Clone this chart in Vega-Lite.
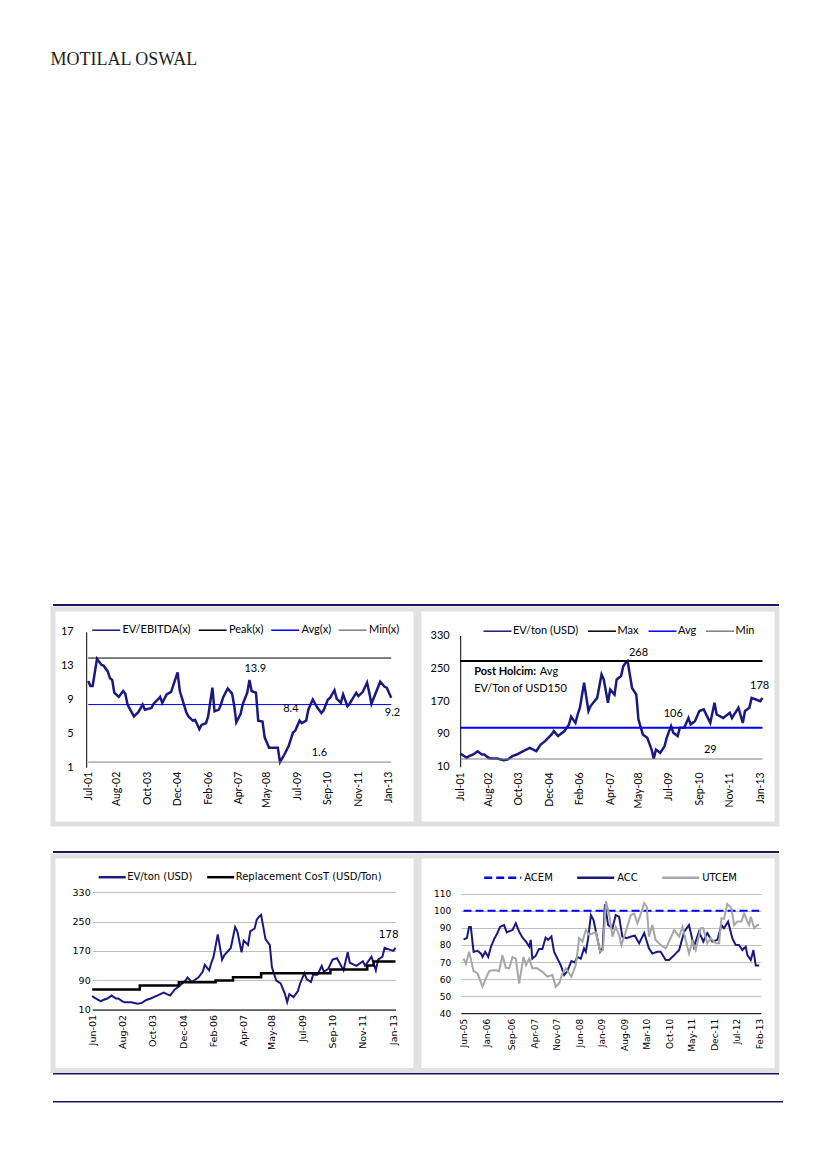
{
"$schema": "https://vega.github.io/schema/vega-lite/v6.json",
"background": "#ffffff",
"padding": {"left": 50, "top": 51, "right": 0, "bottom": 0},
"title": {"text": "MOTILAL OSWAL", "anchor": "start", "frame": "bounds", "font": "Liberation Serif", "fontSize": 18, "fontWeight": "normal", "color": "#231f20", "offset": 535},
"spacing": 0,
"resolve": {"scale": {"color": "independent", "strokeDash": "independent"}, "legend": {"color": "independent", "strokeDash": "independent"}},
"datasets": {
"ebitda": [
{"date":"2001-07-01","v":11.2},{"date":"2001-08-01","v":10.6},{"date":"2001-09-01","v":10.6},{"date":"2001-11-01","v":13.8},{"date":"2002-01-01","v":13.1},{"date":"2002-02-01","v":13.0},{"date":"2002-04-01","v":12.3},{"date":"2002-05-01","v":11.5},{"date":"2002-06-01","v":11.3},{"date":"2002-07-01","v":9.8},{"date":"2002-09-01","v":9.3},{"date":"2002-11-01","v":10.0},{"date":"2002-12-01","v":9.7},{"date":"2003-01-01","v":8.4},{"date":"2003-04-01","v":7.0},{"date":"2003-06-01","v":7.5},{"date":"2003-08-01","v":8.4},{"date":"2003-09-01","v":7.8},{"date":"2003-12-01","v":8.0},{"date":"2004-01-01","v":8.5},{"date":"2004-03-01","v":9.0},{"date":"2004-04-01","v":9.3},{"date":"2004-05-01","v":8.6},{"date":"2004-07-01","v":9.6},{"date":"2004-09-01","v":9.9},{"date":"2004-12-01","v":12.2},{"date":"2005-01-01","v":10.0},{"date":"2005-04-01","v":7.5},{"date":"2005-05-01","v":7.0},{"date":"2005-07-01","v":6.5},{"date":"2005-08-01","v":6.6},{"date":"2005-10-01","v":5.5},{"date":"2005-11-01","v":6.0},{"date":"2006-01-01","v":6.2},{"date":"2006-02-01","v":7.0},{"date":"2006-04-01","v":10.4},{"date":"2006-05-01","v":7.6},{"date":"2006-07-01","v":7.8},{"date":"2006-08-01","v":8.5},{"date":"2006-09-01","v":9.3},{"date":"2006-11-01","v":10.3},{"date":"2007-01-01","v":9.7},{"date":"2007-02-01","v":8.2},{"date":"2007-03-01","v":6.3},{"date":"2007-05-01","v":7.3},{"date":"2007-06-01","v":8.5},{"date":"2007-08-01","v":9.8},{"date":"2007-09-01","v":11.3},{"date":"2007-10-01","v":10.0},{"date":"2007-12-01","v":9.8},{"date":"2008-01-01","v":6.5},{"date":"2008-03-01","v":6.4},{"date":"2008-04-01","v":4.5},{"date":"2008-06-01","v":3.3},{"date":"2008-07-01","v":3.3},{"date":"2008-10-01","v":3.3},{"date":"2008-11-01","v":1.6},{"date":"2009-01-01","v":2.5},{"date":"2009-03-01","v":3.5},{"date":"2009-05-01","v":5.1},{"date":"2009-06-01","v":5.3},{"date":"2009-08-01","v":6.5},{"date":"2009-09-01","v":6.2},{"date":"2009-11-01","v":6.5},{"date":"2009-12-01","v":7.8},{"date":"2010-02-01","v":9.0},{"date":"2010-04-01","v":8.1},{"date":"2010-06-01","v":7.4},{"date":"2010-07-01","v":7.7},{"date":"2010-09-01","v":9.0},{"date":"2010-10-01","v":9.2},{"date":"2010-12-01","v":10.1},{"date":"2011-01-01","v":9.1},{"date":"2011-03-01","v":8.6},{"date":"2011-04-01","v":9.6},{"date":"2011-06-01","v":8.2},{"date":"2011-07-01","v":8.5},{"date":"2011-10-01","v":9.8},{"date":"2011-11-01","v":9.4},{"date":"2012-01-01","v":9.9},{"date":"2012-03-01","v":11.0},{"date":"2012-04-01","v":9.8},{"date":"2012-05-01","v":8.5},{"date":"2012-07-01","v":9.8},{"date":"2012-09-01","v":11.1},{"date":"2012-11-01","v":10.5},{"date":"2012-12-01","v":10.4},{"date":"2013-02-01","v":9.2}
],
"ebitdaRef": [
{"date":"2001-07-01","v":13.9,"s":"Peak(x)"},{"date":"2013-02-01","v":13.9,"s":"Peak(x)"},
{"date":"2001-07-01","v":8.4,"s":"Avg(x)"},{"date":"2013-02-01","v":8.4,"s":"Avg(x)"},
{"date":"2001-07-01","v":1.6,"s":"Min(x)"},{"date":"2013-02-01","v":1.6,"s":"Min(x)"}
],
"evton": [
{"date":"2001-06-01","v":47},{"date":"2001-07-01","v":42.5},{"date":"2001-10-01","v":32},{"date":"2001-11-01","v":36},{"date":"2002-01-01","v":40},{"date":"2002-03-01","v":48},{"date":"2002-05-01","v":40},{"date":"2002-06-01","v":40},{"date":"2002-08-01","v":32},{"date":"2002-09-01","v":30},{"date":"2002-12-01","v":30},{"date":"2003-03-01","v":26},{"date":"2003-05-01","v":28},{"date":"2003-07-01","v":36},{"date":"2003-09-01","v":40},{"date":"2003-12-01","v":48},{"date":"2004-03-01","v":56},{"date":"2004-06-01","v":48},{"date":"2004-08-01","v":64},{"date":"2004-10-01","v":72.5},{"date":"2005-01-01","v":89},{"date":"2005-02-01","v":97},{"date":"2005-04-01","v":85},{"date":"2005-07-01","v":97},{"date":"2005-09-01","v":113},{"date":"2005-10-01","v":132},{"date":"2005-12-01","v":117},{"date":"2006-01-01","v":137.5},{"date":"2006-02-01","v":154},{"date":"2006-04-01","v":215},{"date":"2006-06-01","v":146},{"date":"2006-07-01","v":158},{"date":"2006-10-01","v":178},{"date":"2006-12-01","v":235},{"date":"2007-01-01","v":223},{"date":"2007-03-01","v":166},{"date":"2007-04-01","v":198},{"date":"2007-06-01","v":186},{"date":"2007-07-01","v":223},{"date":"2007-09-01","v":231},{"date":"2007-10-01","v":255},{"date":"2007-11-01","v":263},{"date":"2007-12-01","v":268},{"date":"2008-02-01","v":202},{"date":"2008-04-01","v":186},{"date":"2008-05-01","v":125},{"date":"2008-07-01","v":89},{"date":"2008-09-01","v":81},{"date":"2008-11-01","v":52},{"date":"2008-12-01","v":30},{"date":"2009-01-01","v":52},{"date":"2009-03-01","v":44},{"date":"2009-05-01","v":60},{"date":"2009-06-01","v":81},{"date":"2009-08-01","v":109},{"date":"2009-09-01","v":93},{"date":"2009-11-01","v":85},{"date":"2009-12-01","v":105},{"date":"2010-02-01","v":105},{"date":"2010-04-01","v":129},{"date":"2010-05-01","v":113},{"date":"2010-07-01","v":121},{"date":"2010-09-01","v":146},{"date":"2010-11-01","v":150},{"date":"2011-02-01","v":117},{"date":"2011-04-01","v":166},{"date":"2011-05-01","v":137.5},{"date":"2011-08-01","v":129},{"date":"2011-11-01","v":141.6},{"date":"2011-12-01","v":129},{"date":"2012-03-01","v":154},{"date":"2012-05-01","v":117},{"date":"2012-06-01","v":146},{"date":"2012-08-01","v":154},{"date":"2012-09-01","v":178},{"date":"2012-11-01","v":174},{"date":"2013-01-01","v":170},{"date":"2013-02-01","v":178}
],
"evtonRef": [
{"date":"2001-07-01","v":268,"s":"Max"},{"date":"2013-02-01","v":268,"s":"Max"},
{"date":"2001-07-01","v":105,"s":"Avg"},{"date":"2013-02-01","v":105,"s":"Avg"},
{"date":"2001-07-01","v":29,"s":"Min"},{"date":"2013-02-01","v":29,"s":"Min"}
],
"repl": [
{"date":"2001-06-01","v":64.5,"s":"Replacement CosT (USD/Ton)"},{"date":"2003-04-01","v":75.5,"s":"Replacement CosT (USD/Ton)"},{"date":"2004-10-01","v":84.5,"s":"Replacement CosT (USD/Ton)"},{"date":"2006-03-01","v":89,"s":"Replacement CosT (USD/Ton)"},{"date":"2006-11-01","v":98,"s":"Replacement CosT (USD/Ton)"},{"date":"2007-12-01","v":109,"s":"Replacement CosT (USD/Ton)"},{"date":"2010-08-01","v":119,"s":"Replacement CosT (USD/Ton)"},{"date":"2012-01-01","v":130,"s":"Replacement CosT (USD/Ton)"},{"date":"2012-04-01","v":141,"s":"Replacement CosT (USD/Ton)"},{"date":"2013-02-01","v":141,"s":"Replacement CosT (USD/Ton)"}
],
"cement": [
{"date":"2005-06-01","v":100,"s":"ACEM"},{"date":"2013-02-01","v":100,"s":"ACEM"},
{"date":"2005-06-01","v":83.3,"s":"ACC"},{"date":"2005-07-02","v":84,"s":"ACC"},{"date":"2005-07-24","v":90.6,"s":"ACC"},{"date":"2005-08-09","v":90.6,"s":"ACC"},{"date":"2005-09-04","v":76,"s":"ACC"},{"date":"2005-10-12","v":76.5,"s":"ACC"},{"date":"2005-11-13","v":75,"s":"ACC"},{"date":"2005-11-28","v":73,"s":"ACC"},{"date":"2005-12-23","v":76,"s":"ACC"},{"date":"2006-01-21","v":73,"s":"ACC"},{"date":"2006-02-16","v":79,"s":"ACC"},{"date":"2006-03-17","v":83.3,"s":"ACC"},{"date":"2006-04-18","v":87,"s":"ACC"},{"date":"2006-05-13","v":90.6,"s":"ACC"},{"date":"2006-06-20","v":91.7,"s":"ACC"},{"date":"2006-07-15","v":87.4,"s":"ACC"},{"date":"2006-09-08","v":88.8,"s":"ACC"},{"date":"2006-10-09","v":92.7,"s":"ACC"},{"date":"2006-11-10","v":87.8,"s":"ACC"},{"date":"2006-12-12","v":84.3,"s":"ACC"},{"date":"2007-01-13","v":82,"s":"ACC"},{"date":"2007-02-14","v":79,"s":"ACC"},{"date":"2007-02-28","v":83,"s":"ACC"},{"date":"2007-03-15","v":72,"s":"ACC"},{"date":"2007-04-16","v":73.7,"s":"ACC"},{"date":"2007-05-17","v":77.7,"s":"ACC"},{"date":"2007-06-18","v":77.7,"s":"ACC"},{"date":"2007-07-19","v":84.3,"s":"ACC"},{"date":"2007-08-11","v":83,"s":"ACC"},{"date":"2007-09-12","v":85,"s":"ACC"},{"date":"2007-10-07","v":76,"s":"ACC"},{"date":"2007-11-08","v":72,"s":"ACC"},{"date":"2007-12-10","v":68,"s":"ACC"},{"date":"2008-01-11","v":62.4,"s":"ACC"},{"date":"2008-02-05","v":64.3,"s":"ACC"},{"date":"2008-02-27","v":67.3,"s":"ACC"},{"date":"2008-03-19","v":70.6,"s":"ACC"},{"date":"2008-04-20","v":69.8,"s":"ACC"},{"date":"2008-05-15","v":73,"s":"ACC"},{"date":"2008-06-16","v":72,"s":"ACC"},{"date":"2008-07-17","v":78,"s":"ACC"},{"date":"2008-08-03","v":76,"s":"ACC"},{"date":"2008-08-25","v":84,"s":"ACC"},{"date":"2008-09-20","v":97.5,"s":"ACC"},{"date":"2008-10-15","v":94.6,"s":"ACC"},{"date":"2008-11-16","v":84.9,"s":"ACC"},{"date":"2008-12-17","v":76,"s":"ACC"},{"date":"2009-01-09","v":78,"s":"ACC"},{"date":"2009-01-31","v":104,"s":"ACC"},{"date":"2009-03-02","v":91.7,"s":"ACC"},{"date":"2009-04-12","v":89.8,"s":"ACC"},{"date":"2009-05-13","v":97.5,"s":"ACC"},{"date":"2009-06-14","v":96.6,"s":"ACC"},{"date":"2009-07-15","v":84.9,"s":"ACC"},{"date":"2009-08-26","v":84,"s":"ACC"},{"date":"2009-10-03","v":84.9,"s":"ACC"},{"date":"2009-11-10","v":85.5,"s":"ACC"},{"date":"2009-12-21","v":81,"s":"ACC"},{"date":"2010-02-07","v":87,"s":"ACC"},{"date":"2010-03-24","v":78,"s":"ACC"},{"date":"2010-04-25","v":75,"s":"ACC"},{"date":"2010-06-12","v":76,"s":"ACC"},{"date":"2010-07-13","v":76,"s":"ACC"},{"date":"2010-08-30","v":71.2,"s":"ACC"},{"date":"2010-10-01","v":71.2,"s":"ACC"},{"date":"2010-11-18","v":74,"s":"ACC"},{"date":"2011-01-04","v":77,"s":"ACC"},{"date":"2011-02-21","v":87.8,"s":"ACC"},{"date":"2011-04-08","v":91.7,"s":"ACC"},{"date":"2011-05-24","v":79,"s":"ACC"},{"date":"2011-07-11","v":87.8,"s":"ACC"},{"date":"2011-08-21","v":82,"s":"ACC"},{"date":"2011-09-28","v":87,"s":"ACC"},{"date":"2011-11-15","v":82,"s":"ACC"},{"date":"2012-01-02","v":83,"s":"ACC"},{"date":"2012-02-09","v":91.7,"s":"ACC"},{"date":"2012-03-04","v":89.8,"s":"ACC"},{"date":"2012-04-12","v":93.7,"s":"ACC"},{"date":"2012-05-22","v":84,"s":"ACC"},{"date":"2012-06-23","v":80,"s":"ACC"},{"date":"2012-07-24","v":80,"s":"ACC"},{"date":"2012-08-25","v":77,"s":"ACC"},{"date":"2012-09-26","v":79,"s":"ACC"},{"date":"2012-10-12","v":74,"s":"ACC"},{"date":"2012-11-13","v":71.2,"s":"ACC"},{"date":"2012-12-08","v":77,"s":"ACC"},{"date":"2012-12-30","v":67.9,"s":"ACC"},{"date":"2013-02-01","v":67.9,"s":"ACC"},
{"date":"2005-06-01","v":72,"s":"UTCEM"},{"date":"2005-06-23","v":69,"s":"UTCEM"},{"date":"2005-07-24","v":76,"s":"UTCEM"},{"date":"2005-09-04","v":64.7,"s":"UTCEM"},{"date":"2005-10-12","v":63.3,"s":"UTCEM"},{"date":"2005-11-28","v":55.5,"s":"UTCEM"},{"date":"2005-12-29","v":60.4,"s":"UTCEM"},{"date":"2006-01-31","v":64.7,"s":"UTCEM"},{"date":"2006-03-17","v":65.3,"s":"UTCEM"},{"date":"2006-05-04","v":64.7,"s":"UTCEM"},{"date":"2006-06-05","v":74,"s":"UTCEM"},{"date":"2006-07-06","v":66.7,"s":"UTCEM"},{"date":"2006-08-07","v":66.3,"s":"UTCEM"},{"date":"2006-09-08","v":73,"s":"UTCEM"},{"date":"2006-10-09","v":72,"s":"UTCEM"},{"date":"2006-11-10","v":57.5,"s":"UTCEM"},{"date":"2006-12-21","v":73,"s":"UTCEM"},{"date":"2007-01-13","v":68.3,"s":"UTCEM"},{"date":"2007-02-14","v":72,"s":"UTCEM"},{"date":"2007-03-15","v":66.3,"s":"UTCEM"},{"date":"2007-05-02","v":66.3,"s":"UTCEM"},{"date":"2007-06-18","v":64.3,"s":"UTCEM"},{"date":"2007-08-05","v":61.4,"s":"UTCEM"},{"date":"2007-09-22","v":62.4,"s":"UTCEM"},{"date":"2007-10-23","v":55.5,"s":"UTCEM"},{"date":"2007-11-24","v":57.5,"s":"UTCEM"},{"date":"2007-12-25","v":63.3,"s":"UTCEM"},{"date":"2008-01-26","v":66.3,"s":"UTCEM"},{"date":"2008-02-27","v":63.3,"s":"UTCEM"},{"date":"2008-03-19","v":61.4,"s":"UTCEM"},{"date":"2008-04-30","v":68.3,"s":"UTCEM"},{"date":"2008-06-01","v":84,"s":"UTCEM"},{"date":"2008-07-02","v":82,"s":"UTCEM"},{"date":"2008-08-03","v":88.8,"s":"UTCEM"},{"date":"2008-09-04","v":85.9,"s":"UTCEM"},{"date":"2008-10-05","v":86.8,"s":"UTCEM"},{"date":"2008-11-06","v":87.4,"s":"UTCEM"},{"date":"2008-12-17","v":76,"s":"UTCEM"},{"date":"2009-01-12","v":77,"s":"UTCEM"},{"date":"2009-02-09","v":105.7,"s":"UTCEM"},{"date":"2009-03-11","v":98.4,"s":"UTCEM"},{"date":"2009-04-12","v":84.9,"s":"UTCEM"},{"date":"2009-05-13","v":90.6,"s":"UTCEM"},{"date":"2009-06-14","v":85.9,"s":"UTCEM"},{"date":"2009-07-06","v":80,"s":"UTCEM"},{"date":"2009-08-07","v":85.9,"s":"UTCEM"},{"date":"2009-10-03","v":97.5,"s":"UTCEM"},{"date":"2009-11-04","v":98.4,"s":"UTCEM"},{"date":"2009-12-05","v":92.7,"s":"UTCEM"},{"date":"2010-01-07","v":98.4,"s":"UTCEM"},{"date":"2010-02-07","v":104.5,"s":"UTCEM"},{"date":"2010-03-03","v":102.5,"s":"UTCEM"},{"date":"2010-03-24","v":84.9,"s":"UTCEM"},{"date":"2010-04-25","v":91.7,"s":"UTCEM"},{"date":"2010-05-26","v":83,"s":"UTCEM"},{"date":"2010-07-13","v":80,"s":"UTCEM"},{"date":"2010-08-30","v":78,"s":"UTCEM"},{"date":"2010-10-01","v":82,"s":"UTCEM"},{"date":"2010-11-18","v":88.8,"s":"UTCEM"},{"date":"2011-01-04","v":84.9,"s":"UTCEM"},{"date":"2011-02-05","v":90.6,"s":"UTCEM"},{"date":"2011-03-07","v":83,"s":"UTCEM"},{"date":"2011-04-08","v":75,"s":"UTCEM"},{"date":"2011-05-09","v":82,"s":"UTCEM"},{"date":"2011-06-10","v":77,"s":"UTCEM"},{"date":"2011-07-27","v":89.8,"s":"UTCEM"},{"date":"2011-08-21","v":89.8,"s":"UTCEM"},{"date":"2011-09-28","v":81,"s":"UTCEM"},{"date":"2011-10-30","v":84,"s":"UTCEM"},{"date":"2011-12-17","v":81,"s":"UTCEM"},{"date":"2012-01-18","v":81,"s":"UTCEM"},{"date":"2012-02-09","v":95.7,"s":"UTCEM"},{"date":"2012-03-04","v":95.3,"s":"UTCEM"},{"date":"2012-04-05","v":104,"s":"UTCEM"},{"date":"2012-05-13","v":101.6,"s":"UTCEM"},{"date":"2012-06-08","v":91.7,"s":"UTCEM"},{"date":"2012-07-09","v":93.7,"s":"UTCEM"},{"date":"2012-08-16","v":93.7,"s":"UTCEM"},{"date":"2012-09-11","v":98.4,"s":"UTCEM"},{"date":"2012-10-12","v":93.7,"s":"UTCEM"},{"date":"2012-10-28","v":91.7,"s":"UTCEM"},{"date":"2012-11-13","v":96.6,"s":"UTCEM"},{"date":"2012-12-15","v":89.8,"s":"UTCEM"},{"date":"2013-01-15","v":91.7,"s":"UTCEM"},{"date":"2013-02-01","v":91.7,"s":"UTCEM"}
]
},
"vconcat": [
{"width": 726, "height": 2, "data": {"values": []}, "mark": "point", "view": {"fill": "#1c1363", "stroke": null}},
{"spacing": -4,
 "resolve": {"scale": {"color": "independent", "strokeDash": "independent"}, "legend": {"color": "independent", "strokeDash": "independent"}},
 "hconcat": [
 {"width": 363, "height": 215,
  "view": {"fill": "#ffffff", "stroke": "#e1e1e1", "strokeWidth": 5},
  "encoding": {
   "x": {"field": "date", "type": "temporal",
     "scale": {"domain": [{"year":2001,"month":7,"date":1},{"year":2013,"month":2,"date":1}], "range": [35.2, 338.2]},
     "axis": {"orient": "bottom", "offset": -56.8, "title": null, "domain": false, "ticks": false, "grid": false, "labelAngle": -90, "labelPadding": 4, "format": "%b-%y", "labelFont": "Lato", "labelFontSize": 10.5, "labelColor": "#000000", "labelFlush": false, "labelOverlap": false,
       "values": [{"year":2001,"month":7,"date":1},{"year":2002,"month":8,"date":1},{"year":2003,"month":10,"date":1},{"year":2004,"month":12,"date":1},{"year":2006,"month":2,"date":1},{"year":2007,"month":4,"date":1},{"year":2008,"month":5,"date":1},{"year":2009,"month":7,"date":1},{"year":2010,"month":9,"date":1},{"year":2011,"month":11,"date":1},{"year":2013,"month":1,"date":1}]}},
   "y": {"field": "v", "type": "quantitative",
     "scale": {"domain": [1, 17], "range": [158.2, 22.8], "nice": false, "zero": false},
     "axis": {"orient": "left", "offset": -33.2, "title": null, "domain": true, "domainColor": "#000000", "ticks": false, "grid": false, "values": [1,5,9,13,17], "labelPadding": 13, "labelFont": "Lato", "labelFontSize": 11, "labelColor": "#000000"}}
  },
  "layer": [
   {"data": {"name": "ebitda"}, "mark": {"type": "line", "strokeWidth": 2.5},
    "encoding": {"color": {"datum": "EV/EBITDA(x)", "type": "nominal",
      "scale": {"domain": ["EV/EBITDA(x)", "Peak(x)", "Avg(x)", "Min(x)"], "range": ["#1a1a7e", "#000000", "#0000ff", "#7f7f7f"]},
      "legend": {"orient": "none", "legendX": 38.2, "legendY": 6.2, "direction": "horizontal", "title": null, "symbolType": "stroke", "symbolSize": 784, "symbolStrokeWidth": 1.5, "labelFont": "Lato", "labelFontSize": 11, "labelColor": "#000000", "labelOffset": 1.3, "columnPadding": 4.5, "padding": 0, "labelLimit": 0}}}},
   {"data": {"name": "ebitdaRef"}, "mark": {"type": "line", "strokeWidth": 1},
    "encoding": {"color": {"field": "s", "type": "nominal",
      "scale": {"domain": ["EV/EBITDA(x)", "Peak(x)", "Avg(x)", "Min(x)"], "range": ["#1a1a7e", "#000000", "#0000ff", "#7f7f7f"]},
      "legend": {"orient": "none", "legendX": 38.2, "legendY": 6.2, "direction": "horizontal", "title": null, "symbolType": "stroke", "symbolSize": 784, "symbolStrokeWidth": 1.5, "labelFont": "Lato", "labelFontSize": 11, "labelColor": "#000000", "labelOffset": 1.3, "columnPadding": 4.5, "padding": 0, "labelLimit": 0}}}},
   {"data": {"values": [{"date":"2007-11-22","v":12.55,"t":"13.9"},{"date":"2009-04-01","v":7.82,"t":"8.4"},{"date":"2013-02-18","v":7.46,"t":"9.2"},{"date":"2010-05-04","v":2.62,"t":"1.6"}]},
    "mark": {"type": "text", "font": "Lato", "fontSize": 11, "color": "#000000", "align": "center", "baseline": "middle"},
    "encoding": {"text": {"field": "t"}}}
  ]
 },
 {"width": 358, "height": 215,
  "view": {"fill": "#ffffff", "stroke": "#e1e1e1", "strokeWidth": 5},
  "encoding": {
   "x": {"field": "date", "type": "temporal",
     "scale": {"domain": [{"year":2001,"month":7,"date":1},{"year":2013,"month":2,"date":1}], "range": [41.2, 343.5]},
     "axis": {"orient": "bottom", "offset": -57.2, "title": null, "domain": false, "ticks": false, "grid": false, "labelAngle": -90, "labelPadding": 5, "format": "%b-%y", "labelFont": "Lato", "labelFontSize": 10.5, "labelColor": "#000000", "labelFlush": false, "labelOverlap": false,
       "values": [{"year":2001,"month":7,"date":1},{"year":2002,"month":8,"date":1},{"year":2003,"month":10,"date":1},{"year":2004,"month":12,"date":1},{"year":2006,"month":2,"date":1},{"year":2007,"month":4,"date":1},{"year":2008,"month":5,"date":1},{"year":2009,"month":7,"date":1},{"year":2010,"month":9,"date":1},{"year":2011,"month":11,"date":1},{"year":2013,"month":1,"date":1}]}},
   "y": {"field": "v", "type": "quantitative",
     "scale": {"domain": [10, 330], "range": [157.8, 26.5], "nice": false, "zero": false},
     "axis": {"orient": "left", "offset": -41.2, "title": null, "domain": true, "domainColor": "#000000", "ticks": false, "grid": false, "values": [10,90,170,250,330], "labelPadding": 11, "labelFont": "Lato", "labelFontSize": 11, "labelColor": "#000000"}}
  },
  "layer": [
   {"data": {"name": "evton"}, "transform": [{"filter": {"field": "date", "gte": {"year": 2001, "month": 6, "date": 15}}}],
    "mark": {"type": "line", "strokeWidth": 2.5},
    "encoding": {"color": {"datum": "EV/ton (USD)", "type": "nominal",
      "scale": {"domain": ["EV/ton (USD)", "Max", "Avg", "Min"], "range": ["#1a1a7e", "#000000", "#0000ff", "#7f7f7f"]},
      "legend": {"orient": "none", "legendX": 63.5, "legendY": 7.2, "direction": "horizontal", "title": null, "symbolType": "stroke", "symbolSize": 784, "symbolStrokeWidth": 1.5, "labelFont": "Lato", "labelFontSize": 11, "labelColor": "#000000", "labelOffset": 0.5, "columnPadding": 6.5, "padding": 0, "labelLimit": 0}}}},
   {"data": {"name": "evtonRef"}, "mark": {"type": "line"},
    "encoding": {"strokeWidth": {"condition": {"test": "datum.s === 'Min'", "value": 1}, "value": 2},
      "color": {"field": "s", "type": "nominal",
      "scale": {"domain": ["EV/ton (USD)", "Max", "Avg", "Min"], "range": ["#1a1a7e", "#000000", "#0000ff", "#7f7f7f"]},
      "legend": {"orient": "none", "legendX": 63.5, "legendY": 7.2, "direction": "horizontal", "title": null, "symbolType": "stroke", "symbolSize": 784, "symbolStrokeWidth": 1.5, "labelFont": "Lato", "labelFontSize": 11, "labelColor": "#000000", "labelOffset": 0.5, "columnPadding": 6.5, "padding": 0, "labelLimit": 0}}}},
   {"data": {"values": [{"date":"2008-05-01","v":287.8,"t":"268"},{"date":"2009-09-01","v":137.5,"t":"106"},{"date":"2011-02-01","v":50.5,"t":"29"},{"date":"2012-12-22","v":208,"t":"178"}]},
    "mark": {"type": "text", "font": "Lato", "fontSize": 11, "color": "#000000", "align": "center", "baseline": "middle"},
    "encoding": {"text": {"field": "t"}}},
   {"data": {"values": [{"date":"2002-01-13","v":240.6,"t":"Post Holcim:"}]},
    "mark": {"type": "text", "font": "Lato", "fontSize": 11, "fontWeight": "bold", "color": "#000000", "align": "left", "baseline": "middle"},
    "encoding": {"text": {"field": "t"}}},
   {"data": {"values": [{"date":"2004-07-20","v":240.6,"t":"Avg"},{"date":"2002-01-13","v":200,"t":"EV/Ton of USD150"}]},
    "mark": {"type": "text", "font": "Lato", "fontSize": 11, "color": "#000000", "align": "left", "baseline": "middle"},
    "encoding": {"text": {"field": "t"}}}
  ]
 }
]},
{"width": 726, "height": 24, "data": {"values": []}, "mark": "point"},
{"width": 726, "height": 2, "data": {"values": []}, "mark": "point", "view": {"fill": "#1c1363", "stroke": null}},
{"spacing": -4,
 "resolve": {"scale": {"color": "independent", "strokeDash": "independent"}, "legend": {"color": "independent", "strokeDash": "independent"}},
 "hconcat": [
 {"width": 363, "height": 214.5,
  "view": {"fill": "#ffffff", "stroke": "#e1e1e1", "strokeWidth": 5},
  "encoding": {
   "x": {"field": "date", "type": "temporal",
     "scale": {"domain": [{"year":2001,"month":6,"date":1},{"year":2013,"month":2,"date":1}], "range": [39.2, 342.5]},
     "axis": {"orient": "bottom", "offset": -61, "title": null, "domain": true, "domainColor": "#000000", "zindex": 1, "ticks": false, "grid": false, "labelAngle": -90, "labelPadding": 5, "format": "%b-%y", "labelFont": "DejaVu Sans", "labelFontSize": 9.5, "labelColor": "#000000", "labelFlush": false, "labelOverlap": false,
       "values": [{"year":2001,"month":6,"date":1},{"year":2002,"month":8,"date":1},{"year":2003,"month":10,"date":1},{"year":2004,"month":12,"date":1},{"year":2006,"month":2,"date":1},{"year":2007,"month":4,"date":1},{"year":2008,"month":5,"date":1},{"year":2009,"month":7,"date":1},{"year":2010,"month":9,"date":1},{"year":2011,"month":11,"date":1},{"year":2013,"month":1,"date":1}]}},
   "y": {"field": "v", "type": "quantitative",
     "scale": {"domain": [10, 330], "range": [153.5, 36.2], "nice": false, "zero": false},
     "axis": {"orient": "left", "offset": -39.2, "title": null, "domain": false, "ticks": false, "grid": true, "gridColor": "#bfbfbf", "gridWidth": 1, "values": [10,90,170,250,330], "labelPadding": 2, "labelFont": "DejaVu Sans", "labelFontSize": 9.5, "labelColor": "#000000"}}
  },
  "layer": [
   {"data": {"name": "evton"}, "mark": {"type": "line", "strokeWidth": 2},
    "encoding": {"color": {"datum": "EV/ton (USD)", "type": "nominal",
      "scale": {"domain": ["EV/ton (USD)", "Replacement CosT (USD/Ton)"], "range": ["#1a1a7e", "#000000"]},
      "legend": {"orient": "none", "legendX": 44.2, "legendY": 6.2, "direction": "horizontal", "title": null, "symbolType": "stroke", "symbolSize": 729, "symbolStrokeWidth": 2.5, "labelFont": "DejaVu Sans", "labelFontSize": 10, "labelColor": "#000000", "labelOffset": 0, "columnPadding": 8.5, "padding": 0, "labelLimit": 0}}}},
   {"data": {"name": "repl"}, "mark": {"type": "line", "strokeWidth": 2.5, "interpolate": "step-after"},
    "encoding": {"color": {"field": "s", "type": "nominal",
      "scale": {"domain": ["EV/ton (USD)", "Replacement CosT (USD/Ton)"], "range": ["#1a1a7e", "#000000"]},
      "legend": {"orient": "none", "legendX": 44.2, "legendY": 6.2, "direction": "horizontal", "title": null, "symbolType": "stroke", "symbolSize": 729, "symbolStrokeWidth": 2.5, "labelFont": "DejaVu Sans", "labelFontSize": 10, "labelColor": "#000000", "labelOffset": 0, "columnPadding": 8.5, "padding": 0, "labelLimit": 0}}}},
   {"data": {"values": [{"date":"2012-10-28","v":211.9,"t":"178"}]},
    "mark": {"type": "text", "font": "DejaVu Sans", "fontSize": 10.5, "color": "#000000", "align": "center", "baseline": "middle"},
    "encoding": {"text": {"field": "t"}}}
  ]
 },
 {"width": 358, "height": 214.5,
  "view": {"fill": "#ffffff", "stroke": "#e1e1e1", "strokeWidth": 5},
  "data": {"name": "cement"},
  "mark": {"type": "line", "strokeWidth": 2},
  "encoding": {
   "x": {"field": "date", "type": "temporal",
     "scale": {"domain": [{"year":2005,"month":5,"date":6},{"year":2013,"month":2,"date":16}], "range": [41.8, 341.8]},
     "axis": {"orient": "bottom", "offset": -57.3, "title": null, "domain": true, "domainColor": "#000000", "zindex": 1, "ticks": false, "grid": false, "labelAngle": -90, "labelPadding": 5, "format": "%b-%y", "labelFont": "DejaVu Sans", "labelFontSize": 9, "labelColor": "#000000", "labelFlush": false, "labelOverlap": false,
       "values": [{"year":2005,"month":6,"date":1},{"year":2006,"month":1,"date":1},{"year":2006,"month":9,"date":1},{"year":2007,"month":4,"date":1},{"year":2007,"month":11,"date":1},{"year":2008,"month":6,"date":1},{"year":2009,"month":1,"date":1},{"year":2009,"month":8,"date":1},{"year":2010,"month":3,"date":1},{"year":2010,"month":10,"date":1},{"year":2011,"month":5,"date":1},{"year":2011,"month":12,"date":1},{"year":2012,"month":7,"date":1},{"year":2013,"month":2,"date":1}]}},
   "y": {"field": "v", "type": "quantitative",
     "scale": {"domain": [40, 110], "range": [157.2, 37.8], "nice": false, "zero": false},
     "axis": {"orient": "left", "offset": -41.8, "title": null, "domain": false, "ticks": false, "grid": true, "gridColor": "#bfbfbf", "gridWidth": 1, "values": [40,50,60,70,80,90,100,110], "labelPadding": 10, "labelFont": "DejaVu Sans", "labelFontSize": 9, "labelColor": "#000000"}},
   "color": {"field": "s", "type": "nominal",
     "scale": {"domain": ["ACEM", "ACC", "UTCEM"], "range": ["#0000ff", "#1a1a7e", "#a6a6a6"]},
     "legend": {"orient": "none", "legendX": 63.7, "legendY": 1.8, "direction": "horizontal", "title": null, "symbolType": "stroke", "symbolSize": 1369, "symbolStrokeWidth": 2.5, "labelFont": "DejaVu Sans", "labelFontSize": 10, "labelColor": "#000000", "labelOffset": 1.5, "columnPadding": 18, "padding": 0, "labelLimit": 0}},
   "strokeDash": {"field": "s", "type": "nominal",
     "scale": {"domain": ["ACEM", "ACC", "UTCEM"], "range": [[8, 4], [1, 0], [1, 0]]},
     "legend": {"orient": "none", "legendX": 63.7, "legendY": 1.8, "direction": "horizontal", "title": null, "symbolType": "stroke", "symbolSize": 1369, "symbolStrokeWidth": 2.5, "labelFont": "DejaVu Sans", "labelFontSize": 10, "labelColor": "#000000", "labelOffset": 1.5, "columnPadding": 18, "padding": 0, "labelLimit": 0}}
  }
 }
]},
{"width": 726, "height": 1.5, "data": {"values": []}, "mark": "point", "view": {"fill": "#1c1363", "stroke": null}},
{"width": 726, "height": 25.5, "data": {"values": []}, "mark": "point"},
{"width": 730, "height": 1.5, "data": {"values": []}, "mark": "point", "view": {"fill": "#1c1363", "stroke": null}}
],
"config": {
 "view": {"stroke": null},
 "axis": {"labelColor": "#000000"},
 "legend": {"labelColor": "#000000"}
}
}
